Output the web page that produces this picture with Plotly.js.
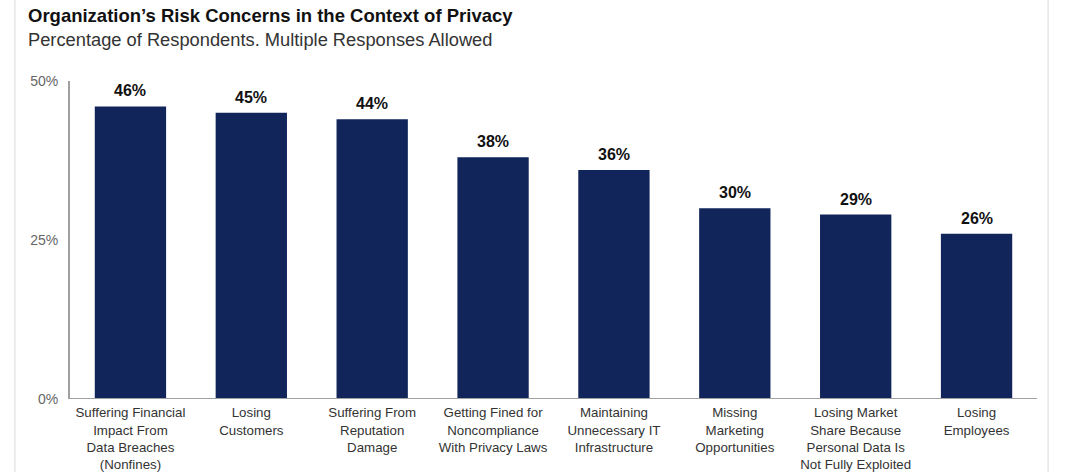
<!DOCTYPE html>
<html><head><meta charset="utf-8">
<script src="https://cdn.plot.ly/plotly-3.0.1.min.js"></script>
<style>html,body{margin:0;padding:0;background:#fff;}#chart{width:1080px;height:472px;}</style>
</head><body><div id="chart"></div>
<script>
const categories = [
  "Suffering Financial<br>Impact From<br>Data Breaches<br>(Nonfines)",
  "Losing<br>Customers",
  "Suffering From<br>Reputation<br>Damage",
  "Getting Fined for<br>Noncompliance<br>With Privacy Laws",
  "Maintaining<br>Unnecessary IT<br>Infrastructure",
  "Missing<br>Marketing<br>Opportunities",
  "Losing Market<br>Share Because<br>Personal Data Is<br>Not Fully Exploited",
  "Losing<br>Employees"
];
const values = [46, 45, 44, 38, 36, 30, 29, 26];
const yTicks = [0, 25, 50];
const yTickLabels = ["0%", "25%", "50%"];

const xs = categories.map((c, i) => i);

const trace = {
  type: 'bar', x: xs, y: values,
  marker: {color: '#11255a'},
  width: 0.59,
  hoverinfo: 'skip'
};

const annotations = values.map((v, i) => ({
  x: i, y: v, xref: 'x', yref: 'y', text: '<b>' + v + '%</b>',
  showarrow: false, yanchor: 'bottom', yshift: 5,
  font: {family: 'Liberation Sans, Arial, sans-serif', size: 16, color: '#111'}
}));
annotations.push({
  xref: 'paper', yref: 'paper', x: -0.0455, y: 1.205, xanchor: 'left', yanchor: 'middle',
  text: '<b>Organization’s Risk Concerns in the Context of Privacy</b>', showarrow: false,
  font: {family: 'Liberation Sans, Arial, sans-serif', size: 18.5, color: '#111'}
});
annotations.push({
  xref: 'paper', yref: 'paper', x: -0.0455, y: 1.13, xanchor: 'left', yanchor: 'middle',
  text: 'Percentage of Respondents. Multiple Responses Allowed', showarrow: false,
  font: {family: 'Liberation Sans, Arial, sans-serif', size: 18.3, color: '#333'}
});

const layout = {
  width: 1080, height: 472,
  margin: {l: 70, r: 43, t: 81, b: 73},
  paper_bgcolor: '#fff', plot_bgcolor: '#fff',
  showlegend: false,
  font: {family: 'Liberation Sans, Arial, sans-serif'},
  xaxis: {
    tickmode: 'array', tickvals: xs, ticktext: categories,
    range: [-0.5, 7.5], showgrid: false, zeroline: false,
    showline: false, ticks: '', ticklabelstandoff: 4,
    tickfont: {size: 13.3, color: '#333'}, fixedrange: true
  },
  yaxis: {
    range: [0, 50], tickmode: 'array', tickvals: yTicks, ticktext: yTickLabels,
    showgrid: false, zeroline: false, showline: true, linecolor: '#a0a0a0', linewidth: 2,
    ticks: '', ticklabelstandoff: 7,
    tickfont: {size: 14, color: '#666'}, fixedrange: true
  },
  shapes: [
    {type: 'line', xref: 'paper', yref: 'y', x0: 0, x1: 1, y0: 0, y1: 0,
     line: {color: '#a0a0a0', width: 2}},
    {type: 'line', xref: 'paper', yref: 'paper', x0: -0.057, x1: -0.057, y0: -0.23, y1: 1.3,
     line: {color: '#e6e6e6', width: 1.5}},
    {type: 'line', xref: 'paper', yref: 'paper', x0: 1.0115, x1: 1.0115, y0: -0.23, y1: 1.3,
     line: {color: '#e6e6e6', width: 1.5}}
  ],
  annotations: annotations,
  bargap: 0.41
};

Plotly.newPlot('chart', [trace], layout, {displayModeBar: false, staticPlot: true});
</script></body></html>
